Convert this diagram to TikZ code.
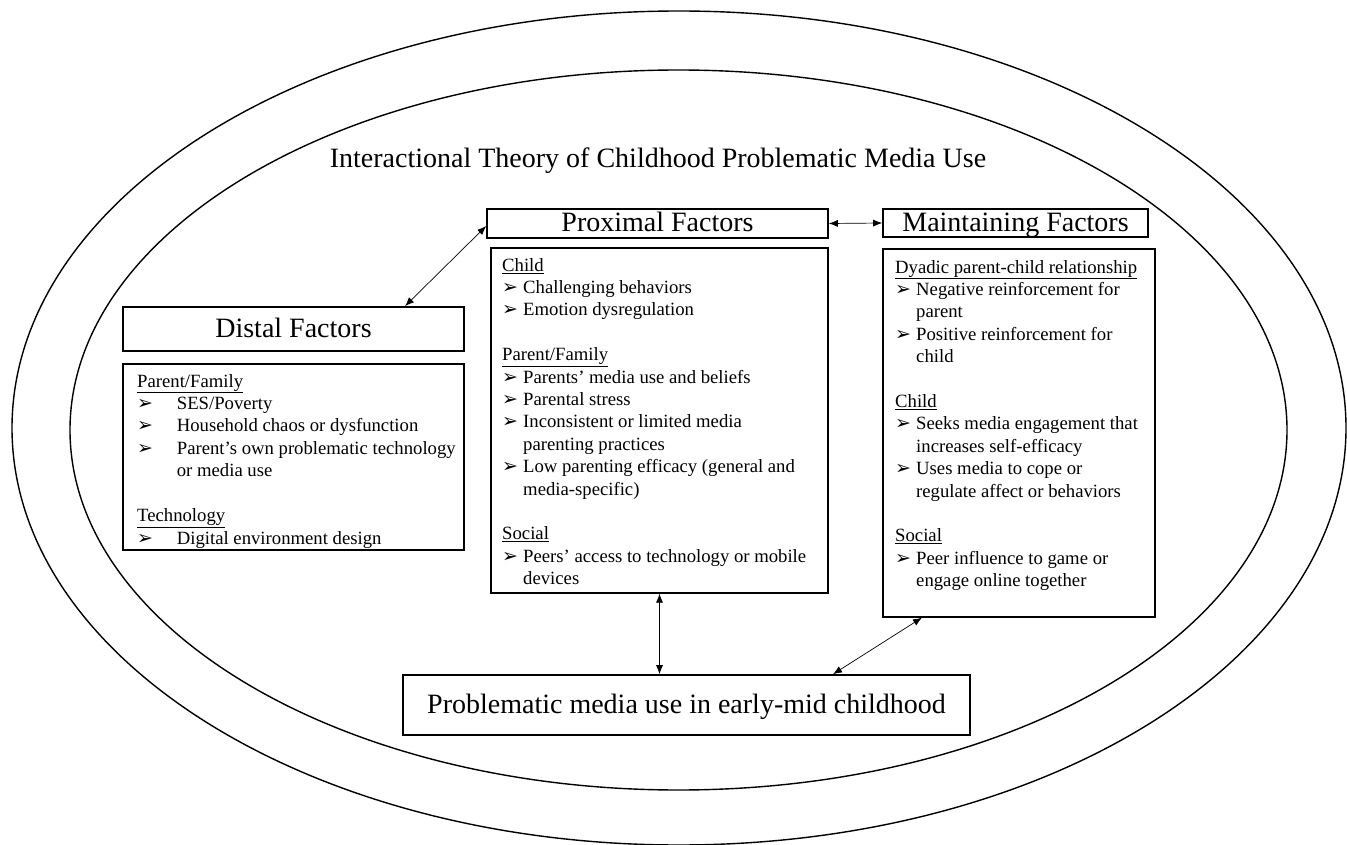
\documentclass[tikz,border=0pt]{standalone}
\usepackage{fontspec}
\setmainfont{Liberation Serif}
\newfontfamily\dingfont{DejaVu Sans}
\usepackage{tikz}
\usetikzlibrary{arrows.meta}

\newcommand{\bul}[1][21pt]{\makebox[#1][l]{\dingfont\fontsize{19}{19}\selectfont ➢}}
\newcommand{\ind}[1][21pt]{\hspace*{#1}}

\begin{document}
\begin{tikzpicture}[x=1pt,y=-1pt, >={Latex[length=9pt,width=7pt]}]
      \tikzstyle{ring}=[draw,line width=1.4pt]
      \tikzstyle{head box}=[draw,line width=1.6pt,inner sep=0pt,text height=19pt,text depth=2pt,font=\fontsize{28}{28}\selectfont]
      \tikzstyle{list box}=[draw,line width=1.3pt,inner sep=0pt]
      \tikzstyle{list text}=[inner sep=0pt,anchor=north west,align=left,font=\fontsize{18.7}{22.4}\selectfont]
      \tikzstyle{link}=[<->,line width=0.7pt]
      \useasboundingbox (0,0) rectangle (1347,845);
      % the two rings
      \draw[ring] (679,428) ellipse [x radius=667, y radius=417];
      \draw[ring] (678.5,430) ellipse [x radius=608.5, y radius=360];
      \node(title)[font=\fontsize{28}{28}\selectfont] at (658,161) {Interactional Theory of Childhood Problematic Media Use};
      % headings
      \node(proxhead)[head box,minimum width=341pt,minimum height=29pt] at (657.5,223.5) {Proximal Factors};
      \node(mainhead)[head box,minimum width=265pt,minimum height=28pt] at (1015.5,223) {Maintaining Factors};
      \node(disthead)[head box,minimum width=341pt,minimum height=44pt] at (293.5,329) {Distal Factors};
      \node(pmu)[head box,minimum width=567pt,minimum height=60pt] at (686.5,705) {Problematic media use in early-mid childhood};
      % lists
      \node(proxbox)[list box,minimum width=337pt,minimum height=345pt] at (659.5,420.5) {};
      \node(mainbox)[list box,minimum width=272pt,minimum height=368pt] at (1019,433) {};
      \node(distbox)[list box,minimum width=341pt,minimum height=186pt] at (293.5,457) {};
      \node(proxtext)[list text] at (502,258) {\underline{Child}\\
          \bul Challenging behaviors\\
          \bul Emotion dysregulation\\[22.4pt]
          \underline{Parent/Family}\\
          \bul Parents’ media use and beliefs\\
          \bul Parental stress\\
          \bul Inconsistent or limited media\\
          \ind parenting practices\\
          \bul Low parenting efficacy (general and\\
          \ind media-specific)\\[22.4pt]
          \underline{Social}\\
          \bul Peers’ access to technology or mobile\\
          \ind devices};
      \node(maintext)[list text] at (895,260) {\underline{Dyadic parent-child relationship}\\
          \bul Negative reinforcement for\\
          \ind parent\\
          \bul Positive reinforcement for\\
          \ind child\\[22.4pt]
          \underline{Child}\\
          \bul Seeks media engagement that\\
          \ind increases self-efficacy\\
          \bul Uses media to cope or\\
          \ind regulate affect or behaviors\\[22.4pt]
          \underline{Social}\\
          \bul Peer influence to game or\\
          \ind engage online together};
      \node(disttext)[list text] at (137,374) {\underline{Parent/Family}\\
          \bul[35pt] SES/Poverty\\
          \bul[35pt] Household chaos or dysfunction\\
          \bul[35pt] Parent’s own problematic technology\\
          \ind[35pt] or media use\\[22.6pt]
          \underline{Technology}\\
          \bul[35pt] Digital environment design};
      % links
      \draw[link] ([xshift=111.5pt]disthead.north) -- ([yshift=-2.5pt]proxhead.west);
      \draw[link] (proxhead.east) -- (mainhead.west);
      \draw[link] (proxbox.south) -- (proxbox.south |- pmu.north);
      \draw[link] ([xshift=-97pt]mainbox.south) -- ([xshift=146.5pt]pmu.north);
  \end{tikzpicture}
\end{document}
